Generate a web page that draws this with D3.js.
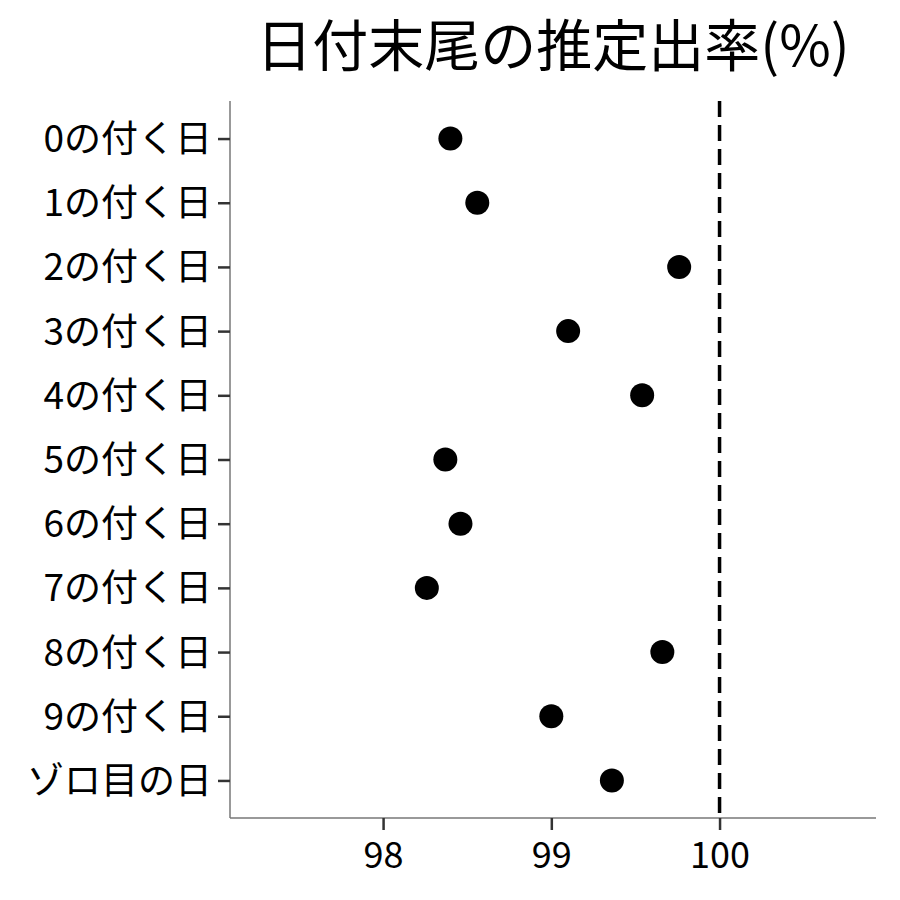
<!DOCTYPE html>
<html>
<head>
<meta charset="utf-8">
<script src="https://cdn.jsdelivr.net/npm/d3@7"></script>
<style>
  body { margin: 0; background: #fff; }
  text { font-family: "Noto Sans CJK JP", sans-serif; fill: #000; }
</style>
</head>
<body>
<div id="chart"></div>
<script>
const categories = ["0の付く日", "1の付く日", "2の付く日", "3の付く日", "4の付く日",
  "5の付く日", "6の付く日", "7の付く日", "8の付く日", "9の付く日", "ゾロ目の日"];
const rates = [98.40, 98.56, 99.76, 99.10, 99.54, 98.37, 98.46, 98.26, 99.66, 99.00, 99.36];
const xTicks = [98, 99, 100];
const refValue = 100;
const title = "日付末尾の推定出率(%)";

const width = 900, height = 900;
const margin = {top: 101, left: 230, bottom: 82, right: 24};
const plotW = width - margin.left - margin.right;
const plotH = height - margin.top - margin.bottom;

const svg = d3.select("#chart").append("svg")
    .attr("width", width)
    .attr("height", height);

svg.append("text")
    .attr("x", 553)
    .attr("y", 66)
    .attr("text-anchor", "middle")
    .style("font-size", "56px")
    .text(title);

const g = svg.append("g")
    .attr("transform", "translate(" + margin.left + "," + margin.top + ")");

const x = d3.scaleLinear()
    .domain([97.09, 100.93])
    .range([0, plotW]);

const y = d3.scalePoint()
    .domain(categories)
    .range([0, plotH])
    .padding(0.585);

// axes
const xAxis = g.append("g")
    .attr("transform", "translate(0," + plotH + ")")
    .call(d3.axisBottom(x).tickValues(xTicks).tickSize(12).tickPadding(12).tickFormat(d3.format("d")));
xAxis.select(".domain").attr("stroke", "#777").attr("stroke-width", 1.5)
    .attr("d", "M0,0H" + plotW);
xAxis.selectAll(".tick line").attr("stroke", "#333").attr("stroke-width", 2.5);
xAxis.selectAll("text").style("font-size", "36px").attr("dy", "0.71em");

const yAxis = g.append("g")
    .call(d3.axisLeft(y).tickSize(12).tickPadding(6));
yAxis.select(".domain").attr("stroke", "#777").attr("stroke-width", 1.5)
    .attr("d", "M0,0V" + plotH);
yAxis.selectAll(".tick line").attr("stroke", "#333").attr("stroke-width", 2.5);
yAxis.selectAll("text").style("font-size", "37px").attr("dy", "0.35em");

// reference line
g.append("line")
    .attr("x1", x(refValue))
    .attr("x2", x(refValue))
    .attr("y1", 0)
    .attr("y2", plotH)
    .attr("stroke", "#000")
    .attr("stroke-width", 3.5)
    .attr("stroke-dasharray", "16,8");

// points
g.selectAll("circle.pt")
    .data(rates)
    .enter()
    .append("circle")
    .attr("class", "pt")
    .attr("cx", d => x(d))
    .attr("cy", (d, i) => y(categories[i]))
    .attr("r", 12)
    .attr("fill", "#000");
</script>
</body>
</html>
